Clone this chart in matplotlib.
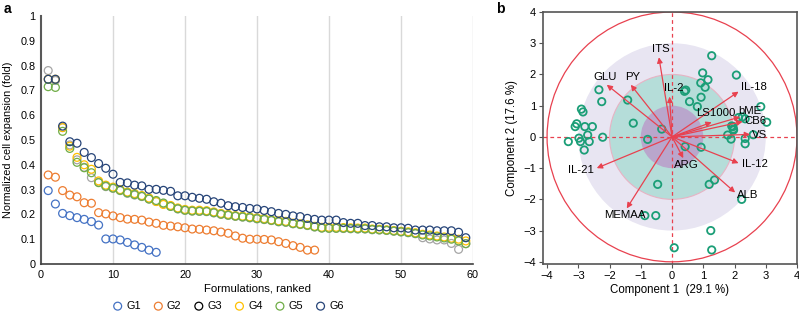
import numpy as np
import matplotlib
matplotlib.use("Agg")
import matplotlib.pyplot as plt
from matplotlib.patches import Circle

plt.rcParams["font.family"] = ["Liberation Sans", "DejaVu Sans"]

# ---- panel a data: normalized cell expansion per ranked formulation
g1 = [0.296, 0.242, 0.204, 0.195, 0.187, 0.180, 0.171, 0.157, 0.101, 0.101, 0.097, 0.087,
      0.077, 0.067, 0.056, 0.047]
g2 = [0.359, 0.350, 0.296, 0.278, 0.271, 0.247, 0.245, 0.207, 0.202, 0.194, 0.187, 0.181,
      0.180, 0.177, 0.169, 0.164, 0.156, 0.153, 0.150, 0.146, 0.141, 0.140, 0.137, 0.134,
      0.129, 0.124, 0.113, 0.104, 0.100, 0.100, 0.099, 0.097, 0.090, 0.083, 0.074, 0.067,
      0.056, 0.056]
g3 = [0.78, 0.74, 0.55, 0.48, 0.42, 0.39, 0.348, 0.33, 0.312, 0.305, 0.296, 0.285, 0.278,
      0.272, 0.262, 0.252, 0.243, 0.233, 0.222, 0.216, 0.213, 0.212, 0.211, 0.206, 0.200,
      0.196, 0.192, 0.189, 0.186, 0.182, 0.179, 0.175, 0.170, 0.168, 0.162, 0.159, 0.155,
      0.149, 0.145, 0.144, 0.144, 0.143, 0.142, 0.141, 0.141, 0.138, 0.137, 0.135, 0.132,
      0.129, 0.126, 0.122, 0.106, 0.101, 0.097, 0.097, 0.083, 0.059, 0.082]
g4 = [0.745, 0.745, 0.55, 0.475, 0.43, 0.40, 0.382, 0.335, 0.318, 0.31, 0.300, 0.290, 0.284,
      0.276, 0.266, 0.252, 0.240, 0.236, 0.226, 0.220, 0.217, 0.217, 0.215, 0.210, 0.204,
      0.200, 0.195, 0.193, 0.190, 0.186, 0.183, 0.178, 0.174, 0.172, 0.165, 0.162, 0.158,
      0.152, 0.148, 0.148, 0.148, 0.147, 0.146, 0.145, 0.145, 0.141, 0.140, 0.138, 0.135,
      0.132, 0.130, 0.126, 0.120, 0.117, 0.113, 0.109, 0.104, 0.100, 0.093]
g5 = [0.715, 0.712, 0.535, 0.466, 0.41, 0.388, 0.368, 0.328, 0.314, 0.306, 0.297, 0.287,
      0.280, 0.273, 0.262, 0.256, 0.246, 0.232, 0.223, 0.217, 0.214, 0.213, 0.212, 0.207,
      0.201, 0.197, 0.193, 0.190, 0.187, 0.183, 0.180, 0.176, 0.171, 0.169, 0.163, 0.160,
      0.156, 0.150, 0.145, 0.144, 0.144, 0.144, 0.143, 0.142, 0.142, 0.139, 0.138, 0.136,
      0.133, 0.130, 0.127, 0.123, 0.117, 0.113, 0.109, 0.105, 0.100, 0.093, 0.082]
g6 = [0.745, 0.745, 0.556, 0.493, 0.487, 0.45, 0.429, 0.405, 0.386, 0.362, 0.329, 0.327,
      0.318, 0.315, 0.301, 0.301, 0.297, 0.293, 0.275, 0.275, 0.269, 0.265, 0.261, 0.251,
      0.245, 0.235, 0.231, 0.228, 0.224, 0.222, 0.216, 0.211, 0.204, 0.200, 0.194, 0.191,
      0.184, 0.180, 0.177, 0.177, 0.177, 0.167, 0.164, 0.164, 0.155, 0.155, 0.150, 0.150,
      0.146, 0.146, 0.144, 0.137, 0.137, 0.137, 0.134, 0.134, 0.134, 0.128, 0.106]
groups = ["G1", "G2", "G3", "G4", "G5", "G6"]
group_vals = [g1, g2, g3, g4, g5, g6]
group_colors = ["#4472c4", "#ed7d31", "#a5a5a5", "#ffc000", "#70ad47", "#264478"]
legend_colors = ["#4472c4", "#ed7d31", "#000000", "#ffc000", "#70ad47", "#264478"]

# ---- panel b data: PCA scores and loadings
pc1 = [1.27, 0.98, 2.06, 0.92, 1.15, 1.06, 0.44, 0.40, 0.93, 0.56, 0.81, 2.84, 3.03, 2.13,
       2.25, 2.34, 1.95, 1.97, 1.78, 1.89, 2.34, 2.34, 2.60, -0.33, -0.78, -1.24, -1.42,
       -2.25, -2.34, -2.22, -2.90, -2.85, -3.05, -3.10, -2.79, -2.55, -2.70, -2.98, -2.93,
       -2.65, -3.32, -2.81, 0.42, 0.93, -0.46, 1.36, 1.19, 2.23, -0.87, -0.52, 1.24, 0.07,
       1.27, 1.91, 1.96]
pc2 = [2.60, 2.05, 1.98, 1.73, 1.83, 1.59, 1.50, 1.46, 1.27, 1.13, 0.97, 0.97, 0.47, 0.62,
       0.64, 0.58, 0.33, 0.22, 0.06, -0.07, -0.05, -0.22, 0.07, 0.25, -0.08, 0.44, 1.18,
       1.13, 1.51, -0.01, 0.89, 0.80, 0.42, 0.33, 0.33, 0.33, 0.06, -0.04, -0.15, -0.15,
       -0.15, -0.42, -0.31, -0.33, -1.52, -1.38, -1.52, -2.00, -2.52, -2.52, -3.00, -3.55,
       -3.62, 0.35, 0.25]
vars_ = ["ITS", "GLU", "PY", "IL-2", "IL-18", "LS1000", "bME", "CB6", "VS",
         "IL-21", "ARG", "IL-12", "ALB", "MEMAA"]
load_x = [-0.42, -2.09, -1.32, -0.08, 2.13, 1.27, 2.18, 2.26, 2.50, -2.41, 0.36, 2.13, 2.02, -1.45]
load_y = [2.55, 1.67, 1.67, 1.29, 1.45, 0.47, 0.64, 0.49, 0.08, -1.00, -0.68, -0.84, -1.78, -2.29]
lab_x = [-0.35, -2.15, -1.25, 0.04, 2.62, 1.40, 2.50, 2.66, 2.79, -2.90, 0.47, 2.64, 2.42, -1.52]
lab_y = [2.82, 1.93, 1.93, 1.56, 1.59, 0.76, 0.83, 0.52, 0.06, -1.06, -0.90, -0.87, -1.86, -2.51]

fig = plt.figure(figsize=(7.99, 3.13), dpi=100)

# panel a
ax = fig.add_axes([41/799, 1-264/313, 432/799, 248/313])
x_rank = np.arange(1, 60)
for name, vals, c in zip(groups, group_vals, group_colors):
    ax.scatter(x_rank[:len(vals)], vals, s=32, facecolors="none", edgecolors=c,
               linewidths=0.9, label=name, clip_on=False)
ax.set_xlim(0, 60)
ax.set_ylim(0, 1)
ax.set_xticks(range(0, 61, 10))
ax.set_yticks(np.arange(0, 1.01, 0.1))
ax.set_yticklabels(["0"] + [f"{v:.1f}" for v in np.arange(0.1, 0.95, 0.1)] + ["1"])
for gx in range(10, 61, 10):
    ax.axvline(gx, color="#d9d9d9", lw=1, zorder=0)
for s in ["top", "right"]:
    ax.spines[s].set_visible(False)
ax.spines["left"].set_color("#595959")
ax.spines["left"].set_linewidth(1.5)
ax.spines["bottom"].set_color("#404040")
ax.spines["bottom"].set_linewidth(1.2)
ax.tick_params(length=0, labelsize=7.8, pad=4)
ax.set_xlabel("Formulations, ranked", fontsize=8.2, labelpad=3)
ax.set_ylabel("Normalized cell expansion (fold)", fontsize=7.8, labelpad=5)
leg = ax.legend(ncol=6, frameon=False, fontsize=7.8, loc="center",
                bbox_to_anchor=(228/799, 1-306/313), bbox_transform=fig.transFigure,
                handlelength=1.0, handletextpad=0.3, columnspacing=1.1, borderaxespad=0)
for h, c in zip(leg.legend_handles, legend_colors):
    h.set_edgecolor(c)
fig.text(4/799, 1-9/313, "a", fontsize=10, fontweight="bold", va="center")

# panel b
red = "#e8414f"
bx = fig.add_axes([543/799, 1-264/313, 254/799, 252/313])
bx.set_xlim(-4.13, 4.0)
bx.set_ylim(-4.07, 4.0)
bx.add_patch(Circle((0, 0), 3, facecolor="#e8e5f2", edgecolor="none", zorder=0))
bx.add_patch(Circle((0, 0), 2, facecolor="#b5ddd9", edgecolor="#e7b3c4", lw=0.8, zorder=0))
bx.add_patch(Circle((0, 0), 1, facecolor="#b9a6cc", edgecolor="none", zorder=0))
bx.add_patch(Circle((0, 0), 4, facecolor="none", edgecolor=red, lw=0.9, zorder=1))
bx.axhline(0, color=red, lw=0.9, ls=(0, (3, 2.5)), zorder=1)
bx.axvline(0, color=red, lw=0.9, ls=(0, (3, 2.5)), zorder=1)
bx.scatter(pc1, pc2, s=28, facecolors="none", edgecolors="#1b9e77", linewidths=1.3, zorder=2)
for v, tx, ty, lx, ly in zip(vars_, load_x, load_y, lab_x, lab_y):
    bx.annotate("", xy=(tx, ty), xytext=(0, 0),
                arrowprops=dict(arrowstyle="-|>", color=red, lw=0.9, mutation_scale=8,
                                shrinkA=0, shrinkB=0), zorder=3)
    bx.text(lx, ly, v, fontsize=8.2, ha="center", va="center", zorder=4)
bx.set_xticks(range(-4, 5))
bx.set_yticks(range(-4, 5))
for s in bx.spines.values():
    s.set_color("#555555")
    s.set_linewidth(1.2)
bx.tick_params(length=3, width=0.8, color="#555555", labelsize=8, pad=2)
bx.set_xlabel("Component 1  (29.1 %)", fontsize=8.3, labelpad=2)
bx.set_ylabel("Component 2 (17.6 %)", fontsize=8.3, labelpad=4)
fig.text(496/799, 1-9/313, "b", fontsize=10, fontweight="bold", va="center")

fig.savefig("out.png", dpi=100)
